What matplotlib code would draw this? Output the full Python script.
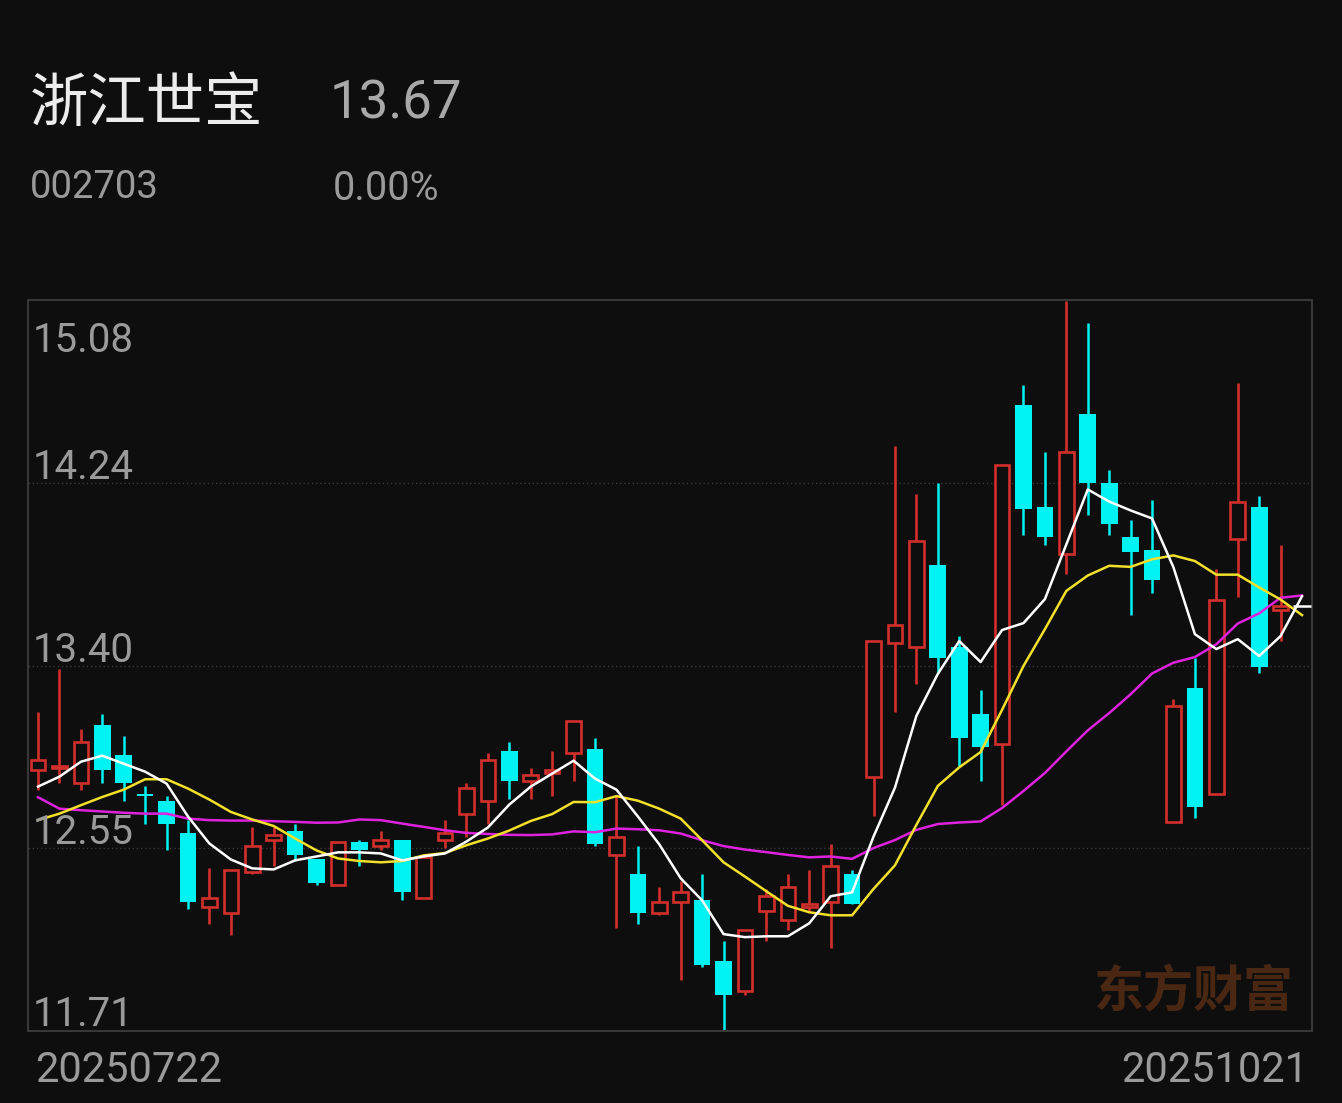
import numpy as np
import matplotlib.pyplot as plt
from matplotlib import transforms

name = "浙江世宝"
code = "002703"
last_price = "13.67"
change_pct = "0.00%"
start_date = "20250722"
end_date = "20251021"
watermark = "东方财富"

opens = [12.91, 12.92, 12.85, 13.12, 12.98, 12.80, 12.77, 12.62, 12.28, 12.25,
         12.44, 12.59, 12.63, 12.50, 12.38, 12.58, 12.56, 12.59, 12.32, 12.59,
         12.71, 12.77, 13.00, 12.86, 12.90, 12.99, 13.01, 12.52, 12.43, 12.25,
         12.30, 12.31, 12.03, 11.89, 12.26, 12.22, 12.28, 12.30, 12.43, 12.88,
         13.50, 13.48, 13.86, 13.48, 13.17, 13.03, 14.60, 14.13, 13.91, 14.56,
         14.24, 13.99, 13.93, 12.67, 13.29, 12.80, 13.98, 14.13, 13.65, 13.67]
highs = [13.18, 13.38, 13.10, 13.17, 13.07, 12.84, 12.79, 12.68, 12.46, 12.45,
         12.65, 12.65, 12.66, 12.50, 12.58, 12.59, 12.63, 12.59, 12.51, 12.68,
         12.85, 12.99, 13.04, 12.92, 13.00, 13.14, 13.06, 12.79, 12.56, 12.37,
         12.40, 12.43, 12.12, 12.17, 12.36, 12.43, 12.45, 12.57, 12.45, 13.51,
         14.41, 14.19, 14.24, 13.53, 13.28, 14.32, 14.69, 14.38, 15.08, 14.98,
         14.30, 14.07, 14.16, 13.24, 13.43, 13.84, 14.70, 14.18, 13.95, 13.67]
lows = [12.82, 12.85, 12.82, 12.85, 12.77, 12.66, 12.54, 12.27, 12.20, 12.15,
        12.43, 12.47, 12.49, 12.38, 12.38, 12.47, 12.54, 12.31, 12.32, 12.55,
        12.60, 12.66, 12.78, 12.78, 12.79, 12.86, 12.56, 12.18, 12.20, 12.24,
        11.94, 12.00, 11.71, 11.87, 12.12, 12.17, 12.26, 12.09, 12.29, 12.70,
        13.18, 13.31, 13.36, 12.93, 12.86, 12.75, 14.00, 13.95, 13.82, 14.09,
        14.00, 13.63, 13.73, 12.67, 12.69, 12.80, 13.71, 13.36, 13.51, 13.67]
closes = [12.96, 12.93, 13.04, 12.91, 12.85, 12.79, 12.66, 12.30, 12.32, 12.45,
          12.56, 12.61, 12.52, 12.39, 12.58, 12.54, 12.59, 12.35, 12.51, 12.62,
          12.83, 12.96, 12.86, 12.89, 12.91, 13.14, 12.57, 12.60, 12.25, 12.30,
          12.35, 12.01, 11.87, 12.17, 12.33, 12.37, 12.29, 12.47, 12.29, 13.51,
          13.58, 13.97, 13.43, 13.06, 13.02, 14.32, 14.12, 13.99, 14.38, 14.24,
          14.05, 13.92, 13.79, 13.21, 12.74, 13.70, 14.15, 13.39, 13.67, 13.67]

ma5 = [12.835, 12.881, 12.950, 12.978, 12.941, 12.904, 12.849, 12.697, 12.572, 12.498,
       12.457, 12.452, 12.494, 12.512, 12.531, 12.531, 12.526, 12.494, 12.512, 12.526,
       12.581, 12.646, 12.752, 12.835, 12.895, 12.955, 12.872, 12.821, 12.697, 12.568,
       12.411, 12.309, 12.153, 12.139, 12.143, 12.143, 12.203, 12.328, 12.346, 12.604,
       12.830, 13.162, 13.356, 13.508, 13.411, 13.559, 13.591, 13.702, 13.955, 14.209,
       14.153, 14.112, 14.075, 13.849, 13.540, 13.471, 13.517, 13.439, 13.531, 13.715]
ma10 = [12.680, 12.710, 12.749, 12.787, 12.821, 12.869, 12.869, 12.826, 12.775, 12.718,
        12.683, 12.653, 12.595, 12.540, 12.503, 12.491, 12.485, 12.491, 12.517, 12.528,
        12.564, 12.595, 12.632, 12.676, 12.708, 12.764, 12.763, 12.791, 12.770, 12.733,
        12.687, 12.587, 12.485, 12.419, 12.351, 12.284, 12.254, 12.240, 12.240, 12.362,
        12.471, 12.658, 12.838, 12.924, 12.995, 13.190, 13.393, 13.563, 13.740, 13.811,
        13.856, 13.851, 13.886, 13.904, 13.878, 13.815, 13.815, 13.756, 13.700, 13.628]
ma20 = [12.786, 12.733, 12.726, 12.720, 12.714, 12.710, 12.710, 12.687, 12.680, 12.678,
        12.678, 12.675, 12.672, 12.668, 12.669, 12.683, 12.680, 12.664, 12.649, 12.633,
        12.621, 12.616, 12.612, 12.611, 12.614, 12.628, 12.624, 12.641, 12.638, 12.633,
        12.618, 12.587, 12.560, 12.544, 12.532, 12.519, 12.508, 12.512, 12.501, 12.551,
        12.588, 12.635, 12.662, 12.669, 12.674, 12.736, 12.815, 12.898, 12.998, 13.095,
        13.175, 13.262, 13.358, 13.408, 13.434, 13.493, 13.589, 13.636, 13.708, 13.719]

y_low, y_high = 11.71, 15.08
y_labels = ["15.08", "14.24", "13.40", "12.55", "11.71"]

bg = "#0e0e0e"
red = "#d2302c"
cyan = "#00f2f2"
grey = "#9a9a9a"

fig = plt.figure(figsize=(13.42, 11.03), dpi=100, facecolor=bg)
ax = fig.add_axes([28 / 1342, 72 / 1103, 1284 / 1342, 731 / 1103])
ax.set_facecolor(bg)

x = np.arange(len(closes))
o = np.array(opens)
h = np.array(highs)
l = np.array(lows)
c = np.array(closes)
flat = h == l
up = (c >= o) & ~flat
down = (c < o) & ~flat

# wicks first, bodies over them (red ones are hollow)
ax.vlines(x[up], l[up], h[up], color=red, lw=1.9, zorder=2)
ax.vlines(x[down], l[down], h[down], color=cyan, lw=1.8, zorder=2)
ax.bar(x[up], np.maximum(c[up] - o[up], 0.004), bottom=o[up], width=0.68,
       facecolor=bg, edgecolor=red, linewidth=1.9, zorder=3)
ax.bar(x[down], o[down] - c[down], bottom=c[down], width=0.78,
       color=cyan, linewidth=0, zorder=3)
ax.hlines(c[flat], x[flat] - 0.42, x[flat] + 0.42, color="white", lw=1.8, zorder=3)

ax.plot(x, ma20, color="#de22de", lw=1.8, zorder=4)
ax.plot(x, ma10, color="#f2e02a", lw=1.8, zorder=5)
ax.plot(x, ma5, color="white", lw=1.8, zorder=6)

ticks = np.linspace(y_high, y_low, 5)
for t in ticks[1:-1]:
    ax.axhline(t, color="#3a3a3a", lw=1, ls=(0, (1, 2)), zorder=1)

ax.set_xlim(-0.467, len(closes) - 1 + 0.467)
ax.set_ylim(y_low - 0.005, y_high + 0.005)
ax.set_xticks([])
ax.set_yticks([])
for s in ax.spines.values():
    s.set_color("#383838")
    s.set_linewidth(1.5)

lab_trans = transforms.blended_transform_factory(ax.transAxes, ax.transData)
for i, (t, lab) in enumerate(zip(ticks, y_labels)):
    dy = -51 if i == 0 else 4
    tr = transforms.offset_copy(lab_trans, fig=fig, x=5, y=dy, units="dots")
    ax.text(0, t, lab, transform=tr, ha="left", va="baseline",
            fontsize=29, family="Roboto", color=grey, zorder=7)

ax.text(0.985, 0.018, watermark, transform=ax.transAxes, ha="right", va="bottom",
        fontsize=36, fontweight="bold", family=["Noto Sans CJK SC", "DejaVu Sans"],
        color="#4a2712", zorder=0.5)

W, H = 1342, 1103
fig.text(30 / W, 1 - 104 / H, name, ha="left", va="center", fontsize=42,
         family=["Noto Sans CJK SC", "DejaVu Sans"], color="#ececec")
fig.text(330 / W, 1 - 104 / H, last_price, ha="left", va="center", fontsize=38,
         family="Roboto", color="#a8a8a8")
fig.text(30 / W, 1 - 188 / H, code, ha="left", va="center", fontsize=27.5,
         family="Roboto", color=grey)
fig.text(333 / W, 1 - 188 / H, change_pct, ha="left", va="center", fontsize=28.5,
         family="Roboto", color=grey)
fig.text(35 / W, 1 - 1071 / H, start_date, ha="left", va="center", fontsize=30,
         family="Roboto", color=grey)
fig.text(1308 / W, 1 - 1071 / H, end_date, ha="right", va="center", fontsize=30,
         family="Roboto", color=grey)

fig.savefig("out.png", dpi=100, facecolor=bg)
